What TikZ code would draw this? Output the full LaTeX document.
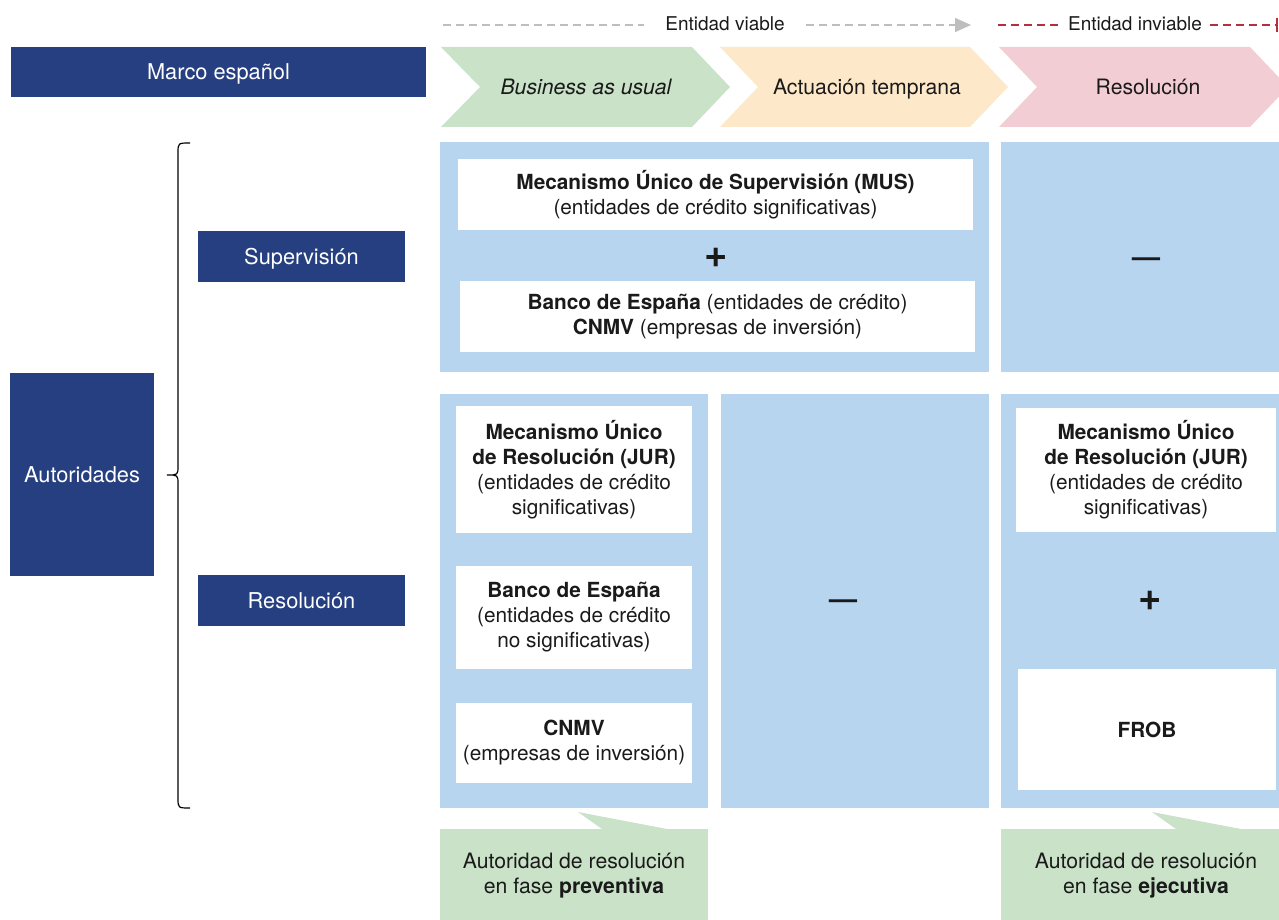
\documentclass[tikz,border=0pt]{standalone}
\usepackage{fontspec}
\setmainfont{TeX Gyre Heros}
\usetikzlibrary{arrows.meta}
\definecolor{navy}{RGB}{38,63,128}
\definecolor{panel}{RGB}{184,213,240}
\definecolor{verde}{RGB}{201,226,200}
\definecolor{naranja}{RGB}{253,232,201}
\definecolor{rosa}{RGB}{243,205,212}
\definecolor{gris}{RGB}{190,190,190}
\definecolor{rojo}{RGB}{181,48,63}
\definecolor{texto}{RGB}{26,26,26}

\begin{document}
\begin{tikzpicture}[x=0.5pt,y=-0.5pt,
    navybox/.style={fill=navy,text=white,inner sep=0pt,text height=1.8ex,text depth=0.35ex,font=\fontsize{10.9}{13}\selectfont},
    whitebox/.style={fill=white,inner sep=0pt,align=center,text=texto,font=\fontsize{10.4}{12.5}\selectfont},
    txt/.style={text=texto,align=center,inner sep=0pt,font=\fontsize{10.6}{12.5}\selectfont},
    phase/.style={txt,text height=1.8ex,text depth=0.35ex},
    toptxt/.style={text=texto,inner sep=0pt,font=\fontsize{9.5}{11}\selectfont},
    plus/.style={text=texto,inner sep=0pt,font=\fontsize{20}{20}\selectfont\bfseries},
    minus/.style={text=texto,inner sep=0pt,font=\fontsize{14}{14}\selectfont\bfseries},
    dashline/.style={line width=0.75pt,dash pattern=on 4pt off 2.5pt}]
    \clip (0,0) rectangle (1279,920);
    \coordinate (v0) at (443,25);
    \coordinate (v1) at (644,25);
    \coordinate (v2) at (806,25);
    \coordinate (v3) at (971,25);
    \coordinate (r0) at (998,25);
    \coordinate (r1) at (1058,25);
    \coordinate (r2) at (1210,25);
    \coordinate (r3) at (1278,25);
    \node[toptxt] (viable) at (725,24) {Entidad viable};
    \node[toptxt] (inviable) at (1135,24) {Entidad inviable};
    \draw[gris,dashline] (v0) -- (v1);
    \draw[gris,dashline,-{Triangle[length=8pt,width=7pt]}] (v2) -- (v3);
    \draw[rojo,dashline] (r0) -- (r1);
    \draw[rojo,dashline,-{Bar[width=7pt,line width=1pt]}] (r2) -- (r3);

    \fill[verde] (441,47) -- (692,47) -- (730,87) -- (692,127) -- (441,127) -- (480,87) -- cycle;
    \fill[naranja] (720,47) -- (970,47) -- (1008,87) -- (970,127) -- (720,127) -- (758,87) -- cycle;
    \fill[rosa] (999,47) -- (1250,47) -- (1288,87) -- (1250,127) -- (999,127) -- (1037,87) -- cycle;
    \node[phase] (bau) at (586,87) {\itshape Business as usual};
    \node[phase] (temprana) at (867,87) {Actuación temprana};
    \node[phase] (resfase) at (1148,87) {Resolución};

    \node[navybox,minimum width=207.5pt,minimum height=25pt] (marco) at (218.5,72) {Marco español};
    \node[navybox,minimum width=72pt,minimum height=101.5pt] (autoridades) at (82,474.5) {Autoridades};
    \node[navybox,minimum width=103.5pt,minimum height=25.5pt] (supervision) at (301.5,256.5) {Supervisión};
    \node[navybox,minimum width=103.5pt,minimum height=25.5pt] (resolucion) at (301.5,600.5) {Resolución};

    \draw[line width=0.6pt] (190,143) .. controls (178,143) .. (178,153) -- (178,466)
        .. controls (178,475) .. (167,475) .. controls (178,475) .. (178,484)
        -- (178,798) .. controls (178,808) .. (190,808);

    \fill[panel] (440,142) rectangle (989,372);
    \fill[panel] (1001,142) rectangle (1279,372);
    \fill[panel] (440,394) rectangle (708,808);
    \fill[panel] (721,394) rectangle (989,808);
    \fill[panel] (1001,394) rectangle (1279,808);

    \node[whitebox,minimum width=257.5pt,minimum height=35.5pt] (mus) at (715.5,194.5)
        {\textbf{Mecanismo Único de Supervisión (MUS)}\\(entidades de crédito significativas)};
    \node[plus] (mas1) at (716,258) {+};
    \node[whitebox,minimum width=257.5pt,minimum height=35.5pt] (bde) at (717.5,316.5)
        {\textbf{Banco de España} (entidades de crédito)\\\textbf{CNMV} (empresas de inversión)};
    \node[minus] (menos1) at (1146,262) {—};

    \node[whitebox,minimum width=118pt,minimum height=63.5pt] (jurL) at (574,469.5)
        {\textbf{Mecanismo Único}\\\textbf{de Resolución (JUR)}\\(entidades de crédito\\significativas)};
    \node[whitebox,minimum width=118pt,minimum height=51.5pt] (bdeL) at (574,617.5)
        {\textbf{Banco de España}\\(entidades de crédito\\no significativas)};
    \node[whitebox,minimum width=118pt,minimum height=40pt] (cnmvL) at (574,743)
        {\textbf{CNMV}\\(empresas de inversión)};
    \node[minus] (menos2) at (843,604) {—};
    \node[whitebox,minimum width=130pt,minimum height=62pt] (jurR) at (1146,470)
        {\textbf{Mecanismo Único}\\\textbf{de Resolución (JUR)}\\(entidades de crédito\\significativas)};
    \node[plus] (mas2) at (1150,601) {+};
    \node[whitebox,minimum width=129pt,minimum height=60.5pt] (frob) at (1147,729.5) {\textbf{FROB}};

    \fill[verde] (440,829) rectangle (708,920);
    \fill[verde] (578,812) -- (667,829) -- (602,829) -- cycle;
    \fill[verde] (1001,829) rectangle (1279,920);
    \fill[verde] (1152,812) -- (1241,829) -- (1176,829) -- cycle;
    \node[txt] (preventiva) at (574,876) {Autoridad de resolución\\en fase \textbf{preventiva}};
    \node[txt] (ejecutiva) at (1146,876) {Autoridad de resolución\\en fase \textbf{ejecutiva}};
\end{tikzpicture}
\end{document}
